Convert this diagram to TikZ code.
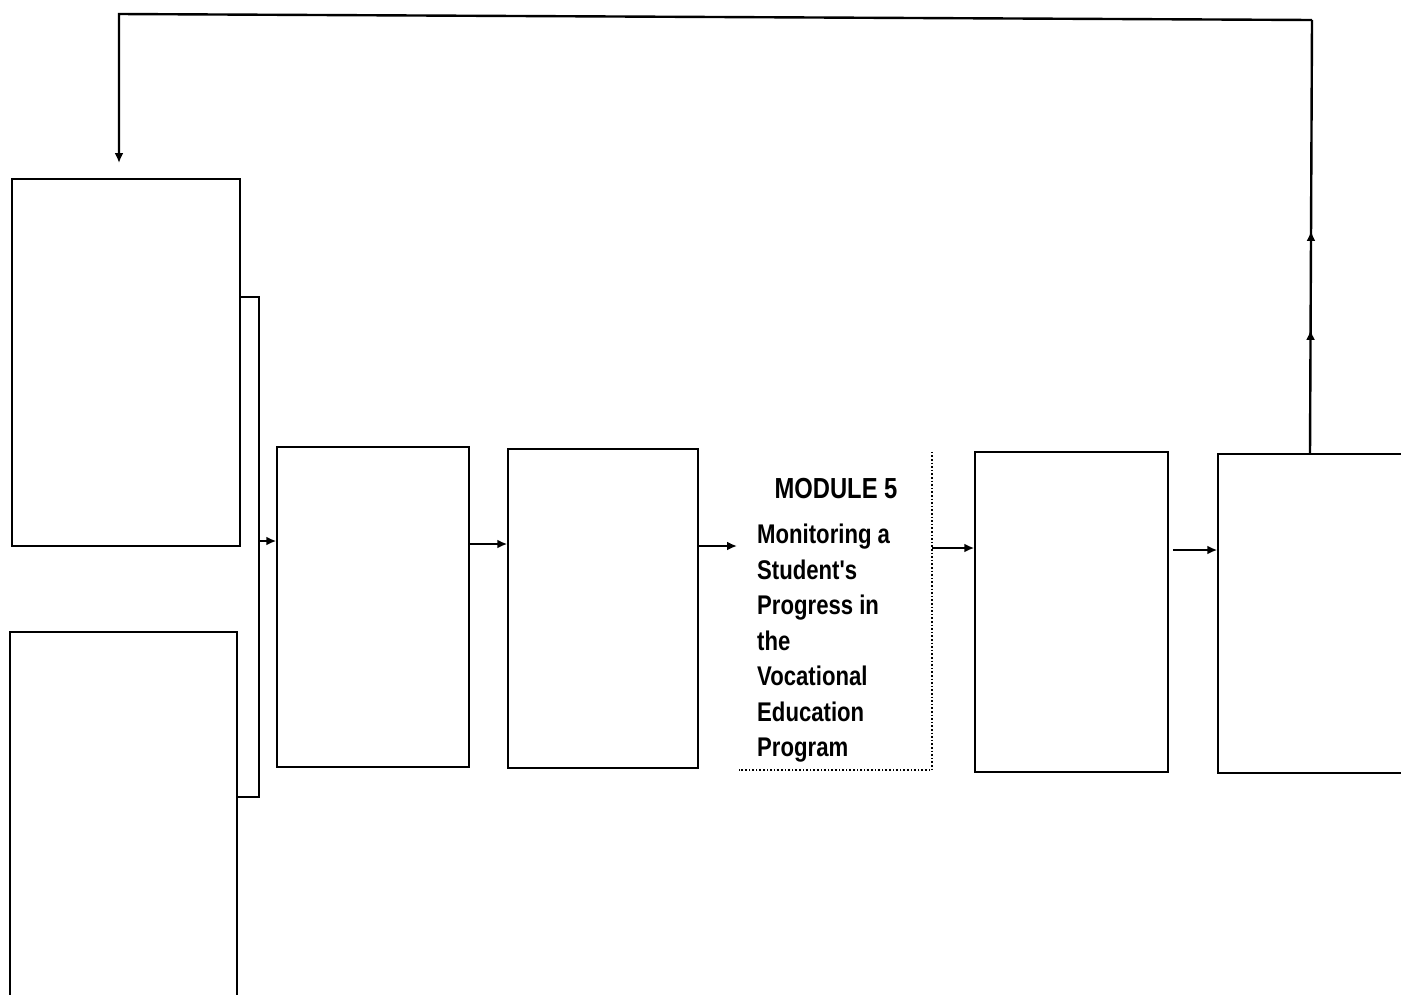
\documentclass[tikz,border=0pt]{standalone}
\usepackage{fontspec}
\newfontfamily\modfont[FakeStretch=0.82]{Liberation Sans}
\usetikzlibrary{arrows.meta,decorations.markings}
\begin{document}
\begin{tikzpicture}[x=1pt,y=-1pt,
  box/.style={draw,line width=1.5pt,inner sep=0pt},
  conn/.style={line width=2.4pt,-{Latex[length=10pt,width=9pt]}},
  wire/.style={line width=2.4pt},
  midarrows/.style={postaction={decorate},decoration={markings,
     mark=at position 0.286 with {\arrow{Latex[length=10pt,width=9pt]}},
     mark=at position 0.514 with {\arrow{Latex[length=10pt,width=9pt]}}}}]
\useasboundingbox (0,0) rectangle (1401,994);
\clip (0,0) rectangle (1401,994);
\fill[white] (0,0) rectangle (1401,994);
% boxes
\node[box,minimum width=228pt,minimum height=367pt] (A) at (126,362.5) {};
\node[box,minimum width=227pt,minimum height=400pt] (B) at (123.5,832) {};
\node[box,minimum width=192pt,minimum height=320pt] (C) at (373,607) {};
\node[box,minimum width=190pt,minimum height=319pt] (D) at (603,608.5) {};
\node[minimum width=193pt,minimum height=318pt,inner sep=0pt] (M) at (835.5,611) {};
\node[box,minimum width=193pt,minimum height=320pt] (E) at (1071.5,612) {};
\node[box,minimum width=202pt,minimum height=319pt] (F) at (1319,613.5) {};
\draw[dotted,line width=1.6pt] (M.north east) -- (M.south east) -- (M.south west);
% module 5 text
\node[font=\modfont\bfseries\fontsize{29}{34}\selectfont] (title) at (836,489) {MODULE 5};
\node[font=\modfont\bfseries\fontsize{27}{35.5}\selectfont,align=left,anchor=north west,inner sep=0pt] (body) at (757,524)
  {Monitoring a\\Student's\\Progress in\\the\\Vocational\\Education\\Program};
% bracket joining A and B
\coordinate (j1) at (259,297);
\coordinate (j2) at (259,797);
\draw[wire] (A.east |- j1) -- (j1) -- (j2) -- (B.east |- j2);
\coordinate (r0) at (259,541);
\draw[conn] (r0) -- (C.west |- r0);
\coordinate (r1) at (0,544);
\draw[conn] (C.east |- r1) -- (D.west |- r1);
\coordinate (r2) at (0,546);
\coordinate (m2) at (737,546);
\draw[conn] (D.east |- r2) -- (m2);
\coordinate (r3) at (0,548);
\draw[conn] (M.east |- r3) -- (E.west |- r3);
\coordinate (r4) at (0,550);
\draw[conn] (E.east |- r4) ++(4,0) -- (F.west |- r4);
% feedback loop
\coordinate (Fup) at (1310,454);
\coordinate (tr) at (1312,20);
\coordinate (tl) at (119,14);
\coordinate (Adown) at (119,163);
\draw[wire,midarrows] (Fup) -- (tr);
\draw[conn] (tr) -- (tl) -- (Adown);
\end{tikzpicture}
\end{document}
